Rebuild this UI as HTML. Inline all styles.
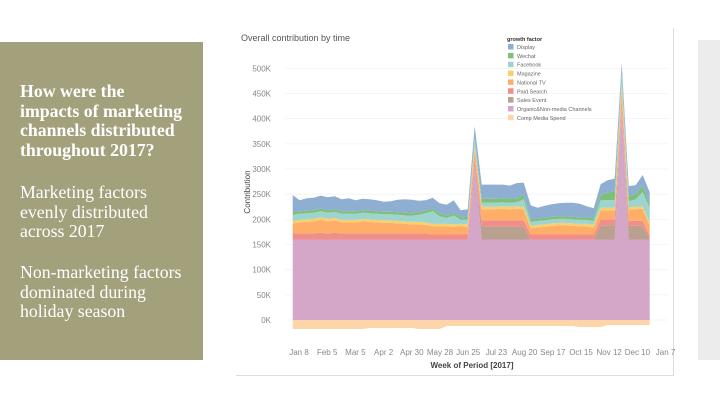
<!DOCTYPE html>
<html><head><meta charset="utf-8"><style>
body{margin:0;width:720px;height:405px;background:#fff;position:relative;overflow:hidden;font-family:"Liberation Sans",sans-serif}
#left{position:absolute;left:0;top:42px;width:203px;height:318px;background:#a3a07c;color:#fff;font-family:"Liberation Serif",serif;font-size:17.8px;line-height:19.6px}
#left p{margin:0;position:absolute;left:20px;width:183px;white-space:nowrap}
#right{position:absolute;left:698px;top:40px;width:22px;height:320px;background:#ececec}
#card{position:absolute;left:236px;top:28px;width:437px;height:347px;border-right:1px solid #ddd;border-bottom:1px solid #ddd}
</style></head><body>
<div id="left">
<p style="top:40px;font-weight:bold">How were the<br>impacts of marketing<br>channels distributed<br>throughout 2017?</p>
<p style="top:141px">Marketing factors<br>evenly distributed<br>across 2017</p>
<p style="top:221px">Non-marketing factors<br>dominated during<br>holiday season</p>
</div>
<div id="right"></div>
<div id="card"></div>
<svg id="chart" width="720" height="405" style="position:absolute;left:0;top:0"></svg>
<script>
const weekLabels=["Jan 8","Feb 5","Mar 5","Apr 2","Apr 30","May 28","Jun 25","Jul 23","Aug 20","Sep 17","Oct 15","Nov 12","Dec 10","Jan 7"];
const yTicks=[0,50,100,150,200,250,300,350,400,450,500];
const seriesNames=["Organic&Non-media Channels","Sales Event","Paid Search","National TV","Magazine","Facebook","Wechat","Display"];
const organic=[160,160,160,160,160,160,160,160,160,160,160,160,160,160,160,160,160,160,160,160,160,160,160,160,160,160,305,160,160,160,160,160,160,160,160,160,160,160,160,160,160,160,160,160,160,160,160,420,160,160,160,160];
const salesEvent=[0,0,0,0,0,0,0,0,0,0,0,0,0,0,0,0,0,0,0,0,0,0,0,0,0,0,0,26,26,26,26,26,26,26,0,0,0,0,0,0,0,0,0,0,28,28,28,0,27,27,27,0];
const paidSearch=[12,12,12,12,13,12,13,12,12,12,12,12,12,12,12,12,12,12,12,12,10,10,10,10,10,10,15,12,12,12,12,12,12,12,10,10,10,10,10,10,10,10,10,10,12,12,12,15,10,10,10,8];
const nationalTV=[20,22,23,24,26,24,25,22,22,22,24,23,22,21,21,20,19,18,18,17,16,16,16,15,16,15,20,22,22,22,23,22,23,22,12,14,15,17,18,18,17,16,16,14,18,18,18,25,22,23,24,20];
const magazine=[5,5,5,5,5,5,5,5,5,5,5,5,5,5,5,5,5,5,5,5,5,5,5,5,5,5,5,5,5,5,5,5,5,5,5,5,5,5,5,5,5,5,5,5,5,5,5,8,5,5,5,5];
const facebook=[12,12,12,12,12,12,12,12,12,12,12,12,12,12,12,12,12,12,14,18,25,15,12,18,8,10,15,8,8,8,8,8,8,15,8,8,8,8,8,8,8,8,8,8,15,15,15,20,12,15,28,30];
const wechat=[5,5,5,5,5,5,5,5,5,5,5,5,5,5,5,5,5,5,5,5,5,5,5,5,5,5,5,8,8,8,8,8,8,8,5,5,5,5,5,5,5,5,5,5,10,15,18,8,10,10,12,6];
const display=[34,22,25,25,26,26,26,24,26,22,23,23,22,20,21,25,27,27,23,21,22,21,21,25,14,15,20,28,28,28,27,26,30,25,28,21,24,25,26,27,28,27,22,20,22,25,25,15,20,18,22,25];
const compMedia=[-18,-18,-18,-18,-18,-18,-18,-18,-18,-18,-18,-16,-16,-16,-16,-16,-16,-16,-18,-18,-18,-18,-12,-12,-12,-12,-12,-12,-12,-12,-12,-12,-12,-12,-12,-12,-12,-12,-12,-12,-12,-14,-14,-14,-14,-10,-10,-10,-10,-10,-10,-10];
const colors=["#d4a6c8","#b9a08f","#f28e8a","#ffae6a","#f7d06d","#9ed4d0","#7ec07a","#8eaed2"];
const compColor="#fdd5a8";
const svg=document.getElementById('chart');const NS="http://www.w3.org/2000/svg";
const x=i=>292.7+i*7.0;const y=v=>320-v*0.5033;
function el(t,a,p){const e=document.createElementNS(NS,t);for(const k in a)e.setAttribute(k,a[k]);(p||svg).appendChild(e);return e;}
const t=el('text',{x:241,y:41,'font-size':9,fill:'#555'});t.textContent="Overall contribution by time";


yTicks.forEach(v=>{const g=el('line',{x1:285,x2:668,y1:y(v),y2:y(v),stroke:'#f2f2f2','stroke-width':0.8});


const l=el('text',{x:271,y:y(v)+3,'font-size':8,fill:'#888','text-anchor':'end'});l.textContent=v+"K";

});
const yt=el('text',{transform:'translate(250,192) rotate(-90)','font-size':8,fill:'#444','text-anchor':'middle'});yt.textContent="Contribution";


weekLabels.forEach((s,i)=>{const l=el('text',{x:299+i*28.2,y:355,'font-size':8,fill:'#888','text-anchor':'middle'});l.textContent=s;

});
const xt=el('text',{x:472,y:368,'font-size':8,fill:'#444','text-anchor':'middle','font-weight':'bold'});xt.textContent="Week of Period [2017]";


const layers=[organic,salesEvent,paidSearch,nationalTV,magazine,facebook,wechat,display];
const n=organic.length;let base=new Array(n).fill(0);
layers.forEach((arr,k)=>{const top=base.map((b,i)=>b+arr[i]);let d="M"+x(0)+","+y(top[0]);
for(let i=1;i<n;i++)d+="L"+x(i)+","+y(top[i]);for(let i=n-1;i>=0;i--)d+="L"+x(i)+","+y(base[i]);
const p=el('path',{d:d+"Z",fill:colors[k]});

base=top;});
let d="M"+x(0)+","+y(0);for(let i=0;i<n;i++)d+="L"+x(i)+","+y(compMedia[i]);d+="L"+x(n-1)+","+y(0)+"Z";
const cp=el('path',{d:d,fill:compColor});


const legNames=["Display","Wechat","Facebook","Magazine","National TV","Paid Search","Sales Event","Organic&Non-media Channels","Comp Media Spend"];
const legColors=["#8eaed2","#7ec07a","#9ed4d0","#f7d06d","#ffae6a","#f28e8a","#b9a08f","#d4a6c8","#fdd5a8"];
const lt=el('text',{x:507,y:41,'font-size':5.5,fill:'#333','font-weight':'bold'});lt.textContent="growth factor";


legNames.forEach((s,i)=>{const g=el('g',{});


el('rect',{x:508,y:44+i*8.85,width:5.5,height:5.5,fill:legColors[i]},g);
const tx=el('text',{x:517,y:49+i*8.85,'font-size':5.5,fill:'#666'},g);tx.textContent=s;});
</script>
</body></html>
